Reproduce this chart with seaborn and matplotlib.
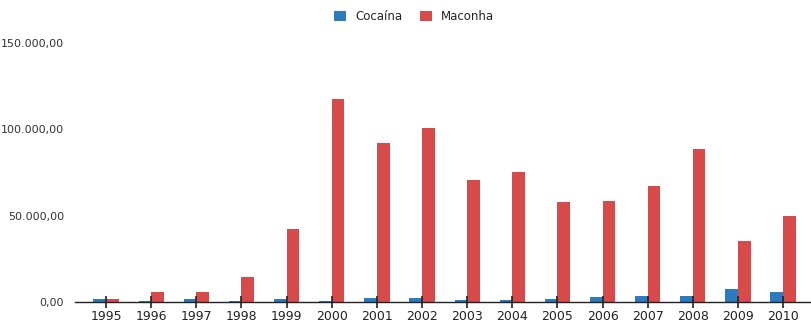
import matplotlib
matplotlib.use('Agg')
import matplotlib.pyplot as plt
import seaborn as sns
import pandas as pd

anos = [str(a) for a in range(1995, 2011)]
cocaina = [1500, 600, 1500, 800, 1500, 700, 2500, 2500, 1400, 1400, 1800, 3100, 3500, 3500, 7300, 5600]
maconha = [1600, 5600, 5600, 14300, 42000, 117500, 92000, 100600, 70500, 75000, 57800, 58400, 67400, 88800, 35400, 49900]

df = pd.DataFrame({
    'Ano': anos * 2,
    'Valor': cocaina + maconha,
    'Droga': ['Cocaína'] * len(anos) + ['Maconha'] * len(anos),
})

sns.set_style('white')
plt.rcParams['font.family'] = ['DejaVu Sans']

fig = plt.figure(figsize=(8.12, 3.25), dpi=100)
ax = fig.add_axes([0.0924, 0.0708, 0.9076, 0.824])

sns.barplot(data=df, x='Ano', y='Valor', hue='Droga',
            palette={'Cocaína': '#2a7bc0', 'Maconha': '#d84a4a'},
            width=0.56, gap=0, saturation=1, linewidth=0, ax=ax, legend=True)

ax.set_xlim(-0.687, 15.64)
ax.set_ylim(0, 155000)
ax.set_yticks([0, 50000, 100000, 150000])
ax.set_yticklabels(['0,00', '50.000,00', '100.000,00', '150.000,00'], fontsize=8, color='#333333')
ax.set_xlabel('')
ax.set_ylabel('')
ax.set_xticks(range(len(anos)))
ax.set_xticklabels(anos, fontsize=9, color='#222222')
ax.set_axisbelow(False)

for side in ['top', 'right', 'left']:
    ax.spines[side].set_visible(False)
ax.spines['bottom'].set_color('#222222')
ax.spines['bottom'].set_linewidth(1)
ax.tick_params(axis='x', bottom=True, direction='inout', length=9, width=1.2, color='#222222', pad=1)
ax.tick_params(axis='y', left=False, length=0, pad=8)

ax.legend(loc='upper center', bbox_to_anchor=(0.46, 1.13), ncol=2, frameon=False,
          fontsize=8.5, handlelength=1.0, handleheight=1.0, columnspacing=1.5, handletextpad=0.8)

fig.savefig('out.png', dpi=100)
